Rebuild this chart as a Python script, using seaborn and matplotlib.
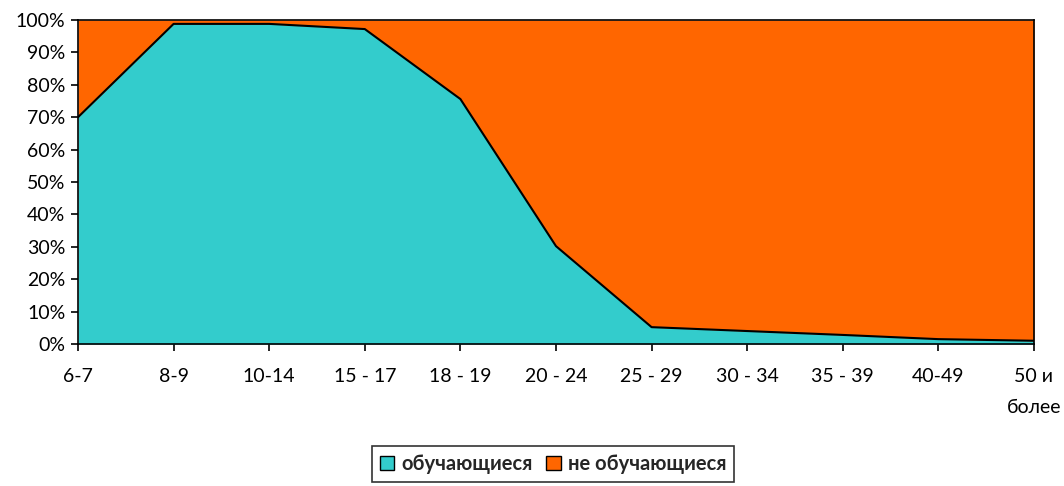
import numpy as np
import pandas as pd
import matplotlib
matplotlib.use('Agg')
import matplotlib.pyplot as plt
import seaborn as sns
from matplotlib.patches import Patch
from matplotlib.ticker import PercentFormatter

# Age groups and share of students (%)
age_groups = ['6-7', '8-9', '10-14', '15 - 17', '18 - 19', '20 - 24',
              '25 - 29', '30 - 34', '35 - 39', '40-49', '50 и\nболее']
students = [70.0, 98.8, 98.8, 97.2, 75.6, 30.2, 5.2, 4.0, 2.8, 1.5, 1.0]
non_students = [100 - v for v in students]
series_names = ['обучающиеся', 'не обучающиеся']
colors = ['#33CCCC', '#FF6600']

sns.set_style('white')
plt.rcParams['font.family'] = ['Lato', 'DejaVu Sans']

df = pd.DataFrame({'group': age_groups, 'students': students, 'non_students': non_students})
df['x'] = np.arange(len(df))

fig, ax = plt.subplots(figsize=(10.64, 4.86), dpi=100)
ax.stackplot(df['x'], df['students'], df['non_students'], colors=colors, linewidth=0)
sns.lineplot(data=df, x='x', y='students', color='black', linewidth=1.5, ax=ax)

ax.set_xlim(0, len(df) - 1)
ax.set_ylim(0, 100)
ax.set_yticks(range(0, 101, 10))
ax.yaxis.set_major_formatter(PercentFormatter(decimals=0))
ax.set_xticks(df['x'])
ax.set_xticklabels(age_groups, linespacing=2.0)
ax.set_xlabel('')
ax.set_ylabel('')
ax.tick_params(axis='both', labelsize=14, colors='black', direction='out',
               length=5, width=1.2, bottom=True, left=True)
ax.tick_params(axis='x', pad=12)
ax.tick_params(axis='y', pad=4)
for s in ax.spines.values():
    s.set_color('black')
    s.set_linewidth(1.2)

handles = [Patch(facecolor=c, edgecolor='black', label=n) for c, n in zip(colors, series_names)]
leg = fig.legend(handles=handles, loc='center', bbox_to_anchor=(553 / 1064, 1 - 464 / 486),
                 ncol=2, frameon=True, fancybox=False, edgecolor='black',
                 prop={'weight': 'bold', 'size': 14.5}, handlelength=0.7, handleheight=0.7,
                 handletextpad=0.35, columnspacing=0.7, borderpad=0.38)
leg.get_frame().set_linewidth(1.2)

fig.subplots_adjust(left=78 / 1064, right=1034 / 1064, top=1 - 20 / 486, bottom=1 - 344 / 486)
fig.savefig('out.png', dpi=100)
